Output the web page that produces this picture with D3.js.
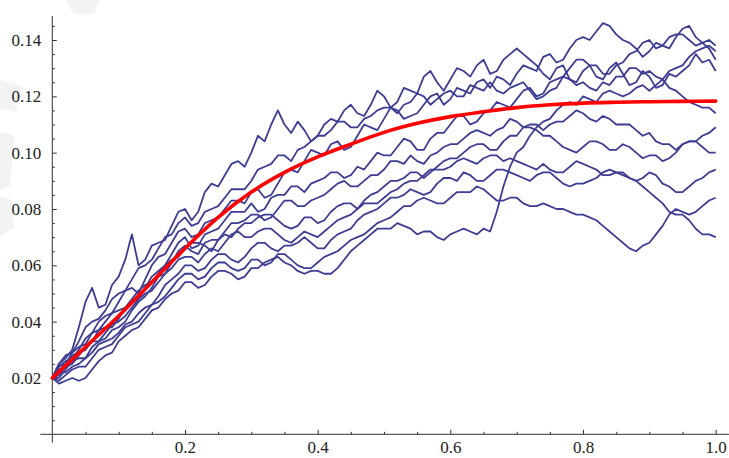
<!DOCTYPE html>
<html>
<head>
<meta charset="utf-8">
<script src="https://cdn.jsdelivr.net/npm/d3@7"></script>
<style>
  html, body { margin: 0; padding: 0; background: #ffffff; }
  svg { display: block; }
</style>
</head>
<body>
<svg id="chart" width="729" height="458"></svg>
<script>
// Sample times shared by every simulated path (101 samples on [0, 1]).
const sampleTimes = d3.range(101).map(i => i / 100);

// Simulated paths, values in thousandths.
const path1  = [20,25,27,30,38,47,52,45,46,53, 56,62,71,60,62,67,68,69,74,79, 80,76,79,86,89,88,92,96,97,95, 100,106,104,110,115,110,107,111,108,104, 106,110,112,111,115,117,114,113,117,122, 120,116,118,123,122,121,127,129,125,122, 126,130,129,127,131,133,128,129,133,135, 137,135,133,131,128,126,130,131,126,125, 129,131,127,126,130,132,128,124,125,129, 127,123,124,128,127,129,131,135,132,133, 129];
const path2  = [20,24,25,29,31,32,36,40,42,43, 47,51,52,50,55,60,63,64,68,72, 73,70,71,75,76,77,80,83,83,82, 86,87,84,85,89,93,94,93,97,101, 100,99,103,104,101,102,106,110,109,108, 112,116,115,112,113,114,117,120,121,117, 119,123,122,121,125,126,123,127,126,124, 128,131,130,129,134,135,132,133,137,140, 141,140,143,146,145,142,140,139,137,134, 136,139,138,137,141,144,145,141,139,137, 133];
const path3  = [20,21,24,28,29,30,33,37,38,38, 41,45,47,48,52,56,58,60,64,68, 70,66,67,71,72,73,76,79,79,79, 82,79,80,84,85,85,88,88,86,89, 90,91,93,93,91,92,95,94,97,100, 99,99,102,105,104,101,101,105,107,107, 110,113,113,110,111,114,115,118,117,116, 119,122,123,120,121,125,126,127,130,133, 133,131,131,128,128,131,132,135,136,139, 140,137,138,141,142,142,140,138,139,140, 138];
const path4  = [20,25,28,29,33,38,40,41,44,48, 50,51,55,59,60,62,66,70,71,75, 77,74,75,79,80,81,84,87,87,87, 90,94,95,96,99,99,97,101,102,104, 106,106,108,111,111,109,109,112,113,115, 116,116,114,117,118,121,120,117,119,121, 122,120,120,124,123,122,125,122,121,123, 124,125,122,119,120,122,123,127,126,124, 125,123,122,125,124,127,127,130,130,128, 129,127,126,123,122,120,118,117,116,116, 114];
const path5  = [20,20,23,26,27,27,31,33,34,37, 38,40,44,47,49,52,56,57,61,65, 67,65,64,68,69,69,72,75,75,76, 78,78,76,77,80,83,83,81,81,83, 84,85,87,89,90,88,88,90,92,92, 94,97,97,96,99,97,96,99,100,102, 103,103,105,107,108,107,106,108,109,112, 111,109,109,108,106,106,104,102,101,100, 102,104,104,103,101,101,103,102,100,98, 99,99,97,98,100,103,104,104,106,107, 109];
const path6  = [20,24,26,27,30,34,36,37,40,43, 44,45,48,51,53,54,57,60,62,63, 66,68,68,67,65,69,71,70,73,75, 75,77,78,78,76,74,73,74,77,77, 75,76,79,81,82,82,80,83,85,86, 88,90,90,91,93,93,91,93,95,97, 98,98,100,102,103,103,101,101,104,106, 106,109,110,110,108,110,111,111,113,115, 114,112,111,113,112,110,110,110,108,106, 107,104,103,103,101,103,104,104,102,100, 100];
const path7  = [20,22,22,24,25,27,29,32,33,34, 36,39,40,43,45,46,49,53,55,57, 60,60,58,59,62,64,64,62,61,63, 66,68,68,66,65,67,67,68,70,68, 66,66,69,71,72,73,76,78,79,80, 82,84,84,85,87,86,85,86,89,91, 91,90,93,92,90,90,92,94,94,93, 92,91,90,92,93,93,91,89,88,89, 89,90,91,93,94,93,92,91,90,91, 93,92,89,88,86,86,88,90,91,93, 94];
const path8  = [20,19,21,23,24,24,27,30,31,32, 35,38,39,40,43,46,47,49,52,55, 57,57,55,56,59,61,61,59,58,59, 62,62,60,61,64,64,62,60,59,59, 61,63,64,65,67,69,70,71,73,75, 76,77,79,81,81,83,84,83,82,82, 84,86,86,86,88,87,85,83,83,84, 84,82,81,81,82,81,80,80,79,78, 78,77,76,74,72,70,68,66,65,67, 68,71,74,78,80,79,78,79,81,83, 84];
const path9  = [20,23,24,25,28,31,33,33,36,39, 40,42,45,48,50,51,54,57,59,62, 63,63,61,64,66,65,68,71,72,70, 70,72,73,73,71,69,68,70,72,71, 70,72,74,76,77,78,80,82,82,82, 84,86,87,89,90,90,92,94,94,94, 95,97,98,97,96,98,99,99,97,98, 97,96,95,94,96,94,93,93,95,97, 96,95,94,92,92,93,93,91,90,88, 86,84,82,79,78,78,76,73,71,71, 70];
const path10 = [20,18,19,20,19,20,23,26,28,29, 33,35,37,38,41,44,45,48,50,51, 54,54,52,53,56,58,58,57,55,56, 59,59,61,62,63,61,60,58,57,58, 58,57,57,59,62,65,67,69,71,73, 73,73,75,74,73,71,72,72,70,69, 71,72,73,72,71,73,72,79,88,95, 100,102,106,109,111,112,115,117,118,117, 120,119,118,121,122,121,120,121,123,124, 122,124,126,129,130,131,134,136,137,138, 136];

const paths = [path1, path2, path3, path4, path5, path6, path7, path8, path9, path10];

// Mean curve, sampled every 0.05, values in thousandths.
const meanTimes = d3.range(21).map(i => i / 20);
const meanCurve = [20,31,42,54,66,77,86,93,98.5,103,107.2,110.4,112.8,114.5,116.0,117.0,117.6,117.9,118.1,118.2,118.3];

// Axis ticks.
const xMajorTicks = [0.2, 0.4, 0.6, 0.8, 1.0];
const xMinorTicks = [0.05, 0.1, 0.15, 0.25, 0.3, 0.35, 0.45, 0.5, 0.55, 0.65, 0.7, 0.75, 0.85, 0.9, 0.95];
const yMajorTicks = [0.02, 0.04, 0.06, 0.08, 0.10, 0.12, 0.14];
const yMinorTicks = [0.005, 0.01, 0.015, 0.025, 0.03, 0.035, 0.045, 0.05, 0.055, 0.065, 0.07, 0.075,
                     0.085, 0.09, 0.095, 0.105, 0.11, 0.115, 0.125, 0.13, 0.135, 0.145];

const labelFont = "'Liberation Serif', 'Times New Roman', 'DejaVu Serif', serif";
const svg = d3.select("#chart");

// Faint background marks in the upper-left corner.
const bg = svg.append("g").attr("fill", "#f3f3f3");
bg.append("path").attr("d", "M66,0 L100,0 L94,14 L74,14 Z");
bg.append("path").attr("d", "M0,80 L22,86 L16,112 L0,108 Z");
bg.append("path").attr("d", "M0,132 L14,136 L10,186 L0,190 Z");
bg.append("path").attr("d", "M0,196 L12,200 L14,228 L0,236 Z");

const x = d3.scaleLinear().domain([0, 1]).range([52.3, 715.7]);
const y = d3.scaleLinear().domain([0, 0.14]).range([434.3, 40]);

// Axis lines.
const axisColor = "#333";
svg.append("line")
  .attr("x1", x(-0.018)).attr("x2", x(1.02))
  .attr("y1", y(0)).attr("y2", y(0))
  .attr("stroke", axisColor).attr("stroke-width", 1);
svg.append("line")
  .attr("x1", x(0)).attr("x2", x(0))
  .attr("y1", y(0.1485)).attr("y2", y(-0.003))
  .attr("stroke", axisColor).attr("stroke-width", 1);

function styleAxis(g) {
  g.select(".domain").remove();
  g.attr("font-family", labelFont).attr("font-size", 17);
  g.selectAll(".tick line").attr("stroke", axisColor);
  g.selectAll(".tick text").attr("fill", "#222");
}

// X axis: major ticks with labels, minor ticks without.
svg.append("g").attr("transform", `translate(0,${y(0)})`)
  .call(d3.axisBottom(x).tickValues(xMajorTicks)
    .tickSizeInner(-4.5).tickSizeOuter(0).tickPadding(7)
    .tickFormat(d3.format(".1f")))
  .call(styleAxis);

svg.append("g").attr("transform", `translate(0,${y(0)})`)
  .call(d3.axisBottom(x).tickValues(xMinorTicks)
    .tickSizeInner(-2.5).tickSizeOuter(0).tickFormat(""))
  .call(styleAxis);

// Y axis: ticks point into the plot.
svg.append("g").attr("transform", `translate(${x(0)},0)`)
  .call(d3.axisLeft(y).tickValues(yMajorTicks)
    .tickSizeInner(-4.5).tickSizeOuter(0).tickPadding(11)
    .tickFormat(d3.format(".2f")))
  .call(styleAxis);

svg.append("g").attr("transform", `translate(${x(0)},0)`)
  .call(d3.axisLeft(y).tickValues(yMinorTicks)
    .tickSizeInner(-2.5).tickSizeOuter(0).tickFormat(""))
  .call(styleAxis);

// Simulated paths.
const pathLine = d3.line()
  .x((d, i) => x(sampleTimes[i]))
  .y(d => y(d / 1000));

svg.append("g")
  .selectAll("path")
  .data(paths)
  .join("path")
  .attr("d", pathLine)
  .attr("fill", "none")
  .attr("stroke", "#3d3d94")
  .attr("stroke-width", 1.8)
  .attr("stroke-linejoin", "round");

// Mean curve on top.
const meanLine = d3.line()
  .x((d, i) => x(meanTimes[i]))
  .y(d => y(d / 1000))
  .curve(d3.curveMonotoneX);

svg.append("path")
  .datum(meanCurve)
  .attr("d", meanLine)
  .attr("fill", "none")
  .attr("stroke", "#ff0000")
  .attr("stroke-width", 3.6)
  .attr("stroke-linecap", "round");
</script>
</body>
</html>
